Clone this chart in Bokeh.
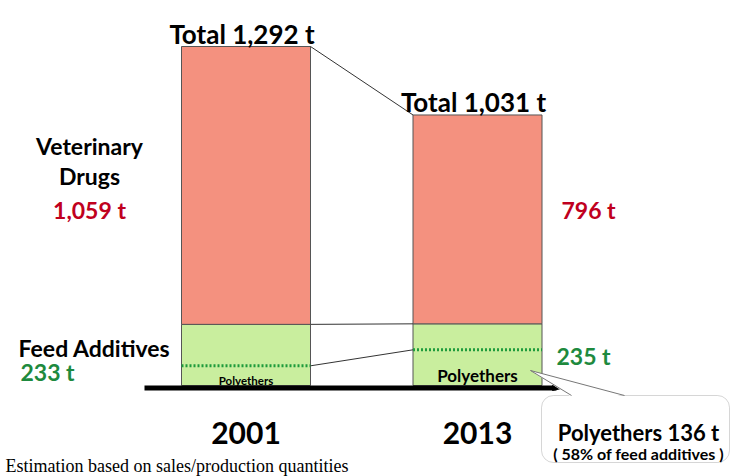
from bokeh.plotting import figure
from bokeh.models import Range1d, BoxAnnotation, ColumnDataSource
from bokeh.core.properties import value
from bokeh.embed import file_html
from bokeh.resources import INLINE

# ---- data ----
years = ["2001", "2013"]
vet_drugs = [1059, 796]
feed_additives = [233, 235]
polyethers = [75, 136]  # 2001 value
poly_share_text = "( 58% of feed additives )"
footnote = "Estimation based on sales/production quantities"

totals = [v + f for v, f in zip(vet_drugs, feed_additives)]

W, H = 733, 476
BASE_PAGE = 385.0           # page y of zero
SCALE = 339.0 / 1292.0      # px per tonne

def ty(page_y):
    return (BASE_PAGE - page_y) / SCALE

def tx(page_x):
    return page_x

p = figure(width=W, height=H, output_backend="svg", toolbar_location=None,
           x_range=Range1d(0, W), y_range=Range1d(ty(H), ty(0)),
           x_axis_location=None, y_axis_location=None, min_border=0)
p.outline_line_color = None
p.grid.visible = False
p.background_fill_color = "white"
p.border_fill_color = "white"

FONT = value("Lato")
RED_BAR = "#F4917F"
GREEN_BAR = "#C9EE9E"
RED_TXT = "#C0001E"
GREEN_TXT = "#1E8A3E"

centers = [tx(245.5), tx(477.0)]
bw = 129
lefts = [c - bw / 2 for c in centers]
rights = [c + bw / 2 for c in centers]

src = ColumnDataSource(dict(x=centers, years=years, vet=vet_drugs, feed=feed_additives,
                            poly=polyethers, total=totals,
                            total_lbl=[f"Total {t:,} t" for t in totals],
                            left=lefts, right=rights))

# bars
p.vbar(x="x", width=bw, bottom=0, top="feed", source=src, fill_color=GREEN_BAR,
       line_color="#555555", line_width=1)
p.vbar(x="x", width=bw, bottom="feed", top="total", source=src, fill_color=RED_BAR,
       line_color="#555555", line_width=1)

# polyether dotted lines
p.segment(x0="left", x1="right", y0="poly", y1="poly", source=src,
          line_color="#1E9B3C", line_width=3, line_dash="2 2")

# connector lines between bars
p.segment(x0=[rights[0]] * 3, y0=[totals[0], feed_additives[0], polyethers[0]],
          x1=[lefts[1]] * 3, y1=[totals[1], feed_additives[1], polyethers[1]],
          line_color="#333333", line_width=1)

# baseline
p.segment(x0=[tx(144)], x1=[tx(556)], y0=[ty(387.5)], y1=[ty(387.5)],
          line_color="black", line_width=5)
p.patch([tx(552), tx(563), tx(552)], [ty(385), ty(387.5), ty(390)], color="black")

# totals
p.text(x="x", y="total", text="total_lbl", source=src, text_font=FONT,
       text_font_style="bold", text_font_size="26px", text_align="center",
       text_baseline="alphabetic", x_offset=-4, y_offset=-13, text_color="black")

# year labels
p.text(x="x", y=ty(432), text="years", source=src, text_font=FONT,
       text_font_style="bold", text_font_size="30px", text_align="center",
       text_baseline="alphabetic", text_color="black")

# left side labels
p.text(x=[tx(89)] * 2, y=[ty(145), ty(175)], text=["Veterinary", "Drugs"],
       text_font=FONT, text_font_style="bold", text_font_size="23px",
       text_align="center", text_baseline="alphabetic", text_color="black")
p.text(x=[tx(89)], y=[ty(209)], text=[f"{vet_drugs[0]:,} t"], text_font=FONT,
       text_font_style="bold", text_font_size="23px", text_align="center",
       text_baseline="alphabetic", text_color=RED_TXT)
p.text(x=[tx(94)], y=[ty(347)], text=["Feed Additives"], text_font=FONT,
       text_font_style="bold", text_font_size="23px", text_align="center",
       text_baseline="alphabetic", text_color="black")
p.text(x=[tx(20)], y=[ty(371)], text=[f"{feed_additives[0]:,} t"], text_font=FONT,
       text_font_style="bold", text_font_size="23px", text_align="left",
       text_baseline="alphabetic", text_color=GREEN_TXT)

# right side labels
p.text(x=[tx(561)], y=[ty(209)], text=[f"{vet_drugs[1]:,} t"], text_font=FONT,
       text_font_style="bold", text_font_size="23px", text_align="left",
       text_baseline="alphabetic", text_color=RED_TXT)
p.text(x=[tx(556)], y=[ty(355)], text=[f"{feed_additives[1]:,} t"], text_font=FONT,
       text_font_style="bold", text_font_size="23px", text_align="left",
       text_baseline="alphabetic", text_color=GREEN_TXT)

# polyether labels inside bars
p.text(x=[centers[0]], y=[ty(380)], text=["Polyethers"], text_font=FONT,
       text_font_style="bold", text_font_size="11.5px", text_align="center",
       text_baseline="alphabetic", text_color="black")
p.text(x=[centers[1]], y=[ty(375)], text=["Polyethers"], text_font=FONT,
       text_font_style="bold", text_font_size="17px", text_align="center",
       text_baseline="alphabetic", text_color="black")

# callout box
box = BoxAnnotation(left=tx(541), right=tx(729), top=ty(395), bottom=ty(462),
                    fill_color="white", fill_alpha=1, line_color="#777777",
                    line_width=1, border_radius=12, level="underlay")
p.add_layout(box)
p.patch([tx(530), tx(571), tx(624)], [ty(370), ty(396.5), ty(396.5)],
        fill_color="white", line_color=None)
p.segment(x0=[tx(530), tx(530)], y0=[ty(370), ty(370)],
          x1=[tx(571), tx(624)], y1=[ty(395), ty(395)],
          line_color="#777777", line_width=1)
p.text(x=[tx(638)], y=[ty(432)], text=[f"Polyethers {polyethers[1]} t"], text_font=FONT,
       text_font_style="bold", text_font_size="22px", text_align="center",
       text_baseline="alphabetic", text_color="black")
p.text(x=[tx(638)], y=[ty(453)], text=[poly_share_text], text_font=FONT,
       text_font_style="bold", text_font_size="16px", text_align="center",
       text_baseline="alphabetic", text_color="black")

# footnote
p.text(x=[tx(5)], y=[ty(465)], text=[footnote], text_font=value("Liberation Serif"),
       text_font_size="18px", text_align="left", text_baseline="alphabetic",
       text_color="black")

open("out.html", "w").write(file_html(p, INLINE))
